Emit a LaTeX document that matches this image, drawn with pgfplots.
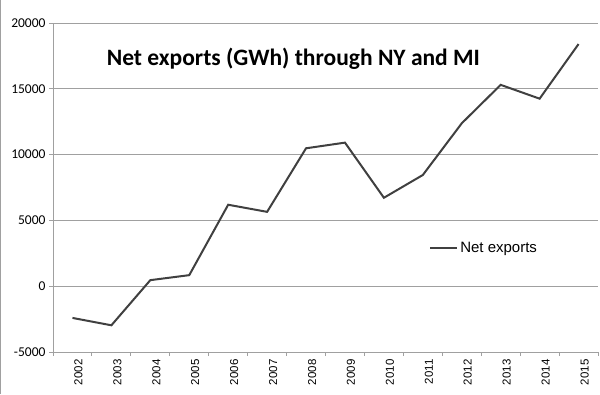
\documentclass[border=0pt]{standalone}
\usepackage{fontspec}
\setmainfont{Carlito}
\newfontfamily\arialf{Liberation Sans}
\usepackage{pgfplots}
\pgfplotsset{compat=1.18}
\definecolor{gridgray}{RGB}{160,160,160}
\definecolor{linegray}{RGB}{64,64,64}
\begin{document}
\begin{tikzpicture}[x=1bp,y=1bp]
\path[use as bounding box] (0,0) rectangle (600,394);
\draw[gridgray, line width=1bp] (0.5,0) -- (0.5,394);
\begin{axis}[
  at={(53bp,42bp)}, anchor=south west,
  scale only axis, width=545bp, height=329bp,
  xmin=-0.5, xmax=13.5, ymin=-5000, ymax=20000,
  xtick={0,...,13},
  xticklabels={2002,2003,2004,2005,2006,2007,2008,2009,2010,2011,2012,2013,2014,2015},
  minor xtick={-0.5,0.5,...,13.5},
  ytick={-5000,0,5000,10000,15000,20000},
  /pgf/number format/assume math mode=true,
  /pgf/number format/fixed,
  /pgf/number format/1000 sep={},
  scaled y ticks=false,
  axis x line*=bottom, axis y line*=left,
  axis line style={gridgray, line width=1bp},
  ymajorgrids, grid style={gridgray, line width=1bp},
  tick align=outside,
  major tick length=4bp, minor tick length=4bp,
  x tick style={draw=none},
  minor x tick style={draw=gridgray, line width=1bp},
  y tick style={gridgray, line width=1bp},
  every tick label/.append style={black},
  xticklabel style={rotate=90, anchor=east, font=\arialf\fontsize{11.5bp}{13bp}\selectfont, yshift=-6bp},
  yticklabel style={font=\fontsize{13.5bp}{15bp}\selectfont},
  legend style={at={(0.69,0.316)}, anchor=west, draw=none, fill=none, inner sep=0pt,
    font=\arialf\fontsize{15bp}{17bp}\selectfont},
  legend image code/.code={\draw[#1] (0bp,0bp) -- (27bp,0bp);},
  legend cell align=left,
  clip=false,
]
\addplot[linegray, line width=2bp] coordinates {
(0,-2410) (1,-2970) (2,460) (3,840) (4,6190) (5,5650) (6,10480)
(7,10910) (8,6720) (9,8450) (10,12380) (11,15300) (12,14250) (13,18400)};
\addlegendentry{Net exports}
\node[anchor=base, font=\bfseries\fontsize{23.5bp}{28bp}\selectfont] at (rel axis cs:0.441,0.872) {Net exports (GWh) through NY and MI};
\end{axis}
\end{tikzpicture}
\end{document}
